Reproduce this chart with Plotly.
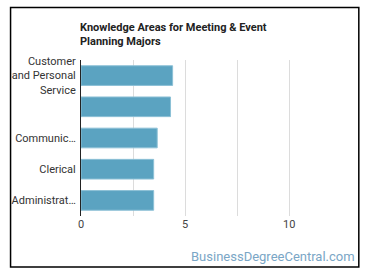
import plotly.graph_objects as go

categories = ["Customer<br>and Personal<br>Service", " ", "Communic…", "Clerical", "Administrat…"]
values = [4.40, 4.30, 3.66, 3.49, 3.49]
x_ticks = [0, 5, 10]

L, R, T, B = 79, 35, 60, 62
W, H = 370, 278
pw = W - L - R
ph = H - T - B

def px(x):
    return (x - L) / pw

def py(y):
    return (H - B - y) / ph

fig = go.Figure(go.Bar(
    y=categories, x=values, orientation="h",
    marker=dict(color="#5ba3c1", line=dict(color="#8cc0d6", width=1)),
    hoverinfo="skip",
))

fig.update_layout(
    width=W, height=H,
    margin=dict(l=L, r=R, t=T, b=B),
    paper_bgcolor="white", plot_bgcolor="white",
    bargap=0.37,
    showlegend=False,
    font=dict(family="Roboto", size=11, color="#333"),
    xaxis=dict(
        range=[0, 12.2], tickvals=x_ticks, showgrid=True, gridcolor="#dcdcdc",
        minor=dict(dtick=2.5, showgrid=True, gridcolor="#dcdcdc"),
        zeroline=False, showline=False, ticks="", tickfont=dict(size=11, color="#444"),
        fixedrange=True,
    ),
    yaxis=dict(
        autorange="reversed", showline=True, linecolor="#222", linewidth=1,
        ticks="", showgrid=False, tickfont=dict(size=11, color="#333"),
        ticklabelstandoff=2,
    ),
    shapes=[dict(
        type="rect", xref="paper", yref="paper",
        x0=px(8), x1=px(359), y0=py(267), y1=py(7.5),
        line=dict(color="black", width=1.5), fillcolor="rgba(0,0,0,0)", layer="below",
    )],
    annotations=[
        dict(
            text="<b>Knowledge Areas for Meeting & Event<br>Planning Majors</b>",
            xref="paper", yref="paper", x=px(76), y=py(19), xanchor="left", yanchor="top",
            align="left", showarrow=False, font=dict(family="Roboto", size=11, color="#222"),
        ),
        dict(
            text="BusinessDegreeCentral.com",
            xref="paper", yref="paper", x=px(357), y=py(256), xanchor="right", yanchor="middle",
            showarrow=False, font=dict(family="Roboto", size=13, color="#7aa6c6"),
        ),
    ],
)

fig.write_html("out.html")
